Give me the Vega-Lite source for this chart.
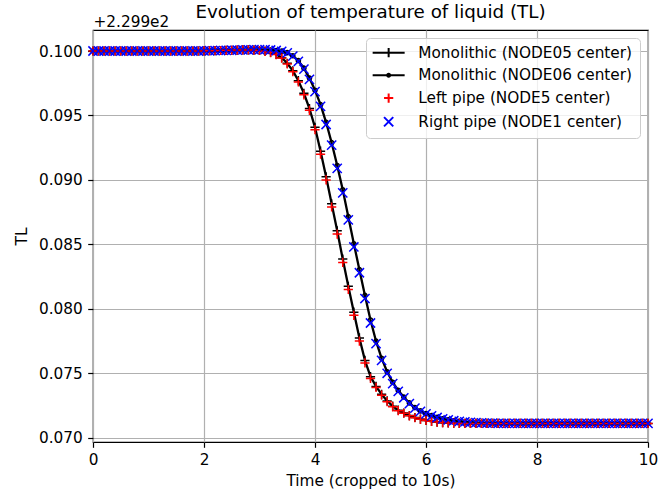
{
  "$schema": "https://vega.github.io/schema/vega-lite/v6.json",
  "width": 555,
  "height": 412,
  "autosize": {"type": "none"},
  "padding": {"left": 93, "top": 30, "right": 10, "bottom": 50},
  "background": "white",
  "config": {
    "font": "DejaVu Sans",
    "view": {"stroke": "black", "strokeWidth": 1.2},
    "axis": {
      "domain": false, "grid": true, "gridColor": "#b0b0b0", "gridWidth": 1.2,
      "tickColor": "black", "tickWidth": 1.2, "tickSize": 5.3, "labelFlush": false,
      "labelFontSize": 15.3, "labelColor": "black", "labelPadding": 5.5,
      "titleFontSize": 15.3, "titleFontWeight": "normal", "titleColor": "black"
    }
  },
  "title": {"text": "Evolution of temperature of liquid (TL)", "fontSize": 18.3, "fontWeight": "normal", "anchor": "middle", "frame": "group", "baseline": "alphabetic", "offset": -6, "dy": 16, "color": "black"},
  "data": {"values": [
    {"t":0,"a":0.1,"b":0.1,"c":0.1,"d":0.1},
    {"t":0.1,"a":0.1,"b":0.1,"c":0.1,"d":0.1},
    {"t":0.2,"a":0.1,"b":0.1,"c":0.1,"d":0.1},
    {"t":0.3,"a":0.1,"b":0.1,"c":0.1,"d":0.1},
    {"t":0.4,"a":0.1,"b":0.1,"c":0.1,"d":0.1},
    {"t":0.5,"a":0.1,"b":0.1,"c":0.1,"d":0.1},
    {"t":0.6,"a":0.1,"b":0.1,"c":0.1,"d":0.1},
    {"t":0.7,"a":0.1,"b":0.1,"c":0.1,"d":0.1},
    {"t":0.8,"a":0.1,"b":0.1,"c":0.1,"d":0.1},
    {"t":0.9,"a":0.1,"b":0.1,"c":0.1,"d":0.1},
    {"t":1.0,"a":0.1,"b":0.1,"c":0.1,"d":0.1},
    {"t":1.1,"a":0.1,"b":0.1,"c":0.1,"d":0.1},
    {"t":1.2,"a":0.1,"b":0.1,"c":0.1,"d":0.1},
    {"t":1.3,"a":0.1,"b":0.1,"c":0.1,"d":0.1},
    {"t":1.4,"a":0.1,"b":0.1,"c":0.1,"d":0.1},
    {"t":1.5,"a":0.1,"b":0.1,"c":0.1,"d":0.1},
    {"t":1.6,"a":0.1,"b":0.1,"c":0.1,"d":0.1},
    {"t":1.7,"a":0.1,"b":0.1,"c":0.1,"d":0.1},
    {"t":1.8,"a":0.1,"b":0.1,"c":0.1,"d":0.1},
    {"t":1.9,"a":0.1,"b":0.1,"c":0.1,"d":0.1},
    {"t":2.0,"a":0.10001,"b":0.10001,"c":0.10001,"d":0.10001},
    {"t":2.1,"a":0.10002,"b":0.10002,"c":0.10002,"d":0.10002},
    {"t":2.2,"a":0.10003,"b":0.10003,"c":0.10003,"d":0.10003},
    {"t":2.3,"a":0.10004,"b":0.10004,"c":0.10004,"d":0.10004},
    {"t":2.4,"a":0.10005,"b":0.10005,"c":0.10005,"d":0.10005},
    {"t":2.5,"a":0.10006,"b":0.10006,"c":0.10006,"d":0.10006},
    {"t":2.6,"a":0.10007,"b":0.10007,"c":0.10007,"d":0.10007},
    {"t":2.7,"a":0.10008,"b":0.10008,"c":0.10008,"d":0.10008},
    {"t":2.8,"a":0.10008,"b":0.10009,"c":0.10008,"d":0.10009},
    {"t":2.9,"a":0.10007,"b":0.1001,"c":0.10007,"d":0.1001},
    {"t":3.0,"a":0.10004,"b":0.1001,"c":0.10004,"d":0.1001},
    {"t":3.1,"a":0.09999,"b":0.1001,"c":0.09998,"d":0.1001},
    {"t":3.2,"a":0.09989,"b":0.10008,"c":0.09988,"d":0.10008},
    {"t":3.3,"a":0.09974,"b":0.10004,"c":0.09972,"d":0.10004},
    {"t":3.4,"a":0.09948,"b":0.09999,"c":0.09945,"d":0.09998},
    {"t":3.5,"a":0.09905,"b":0.09987,"c":0.099,"d":0.09985},
    {"t":3.6,"a":0.09847,"b":0.09963,"c":0.0984,"d":0.0996},
    {"t":3.7,"a":0.0977,"b":0.09925,"c":0.0976,"d":0.0992},
    {"t":3.8,"a":0.09672,"b":0.09867,"c":0.0966,"d":0.0986},
    {"t":3.9,"a":0.09554,"b":0.0979,"c":0.0954,"d":0.0978},
    {"t":4.0,"a":0.09408,"b":0.09696,"c":0.0939,"d":0.09685},
    {"t":4.1,"a":0.09223,"b":0.09584,"c":0.092,"d":0.0957},
    {"t":4.2,"a":0.09024,"b":0.09447,"c":0.09,"d":0.0943},
    {"t":4.3,"a":0.08815,"b":0.09289,"c":0.0879,"d":0.0927},
    {"t":4.4,"a":0.08605,"b":0.09112,"c":0.0858,"d":0.0909},
    {"t":4.5,"a":0.08386,"b":0.08923,"c":0.0836,"d":0.089},
    {"t":4.6,"a":0.08175,"b":0.08715,"c":0.0815,"d":0.0869},
    {"t":4.7,"a":0.07974,"b":0.08505,"c":0.0795,"d":0.0848},
    {"t":4.8,"a":0.07774,"b":0.08304,"c":0.0775,"d":0.0828},
    {"t":4.9,"a":0.076,"b":0.08104,"c":0.0758,"d":0.0808},
    {"t":5.0,"a":0.07474,"b":0.07913,"c":0.0746,"d":0.0789},
    {"t":5.1,"a":0.07398,"b":0.07749,"c":0.0739,"d":0.0773},
    {"t":5.2,"a":0.07337,"b":0.07616,"c":0.0733,"d":0.076},
    {"t":5.3,"a":0.07286,"b":0.07512,"c":0.0728,"d":0.075},
    {"t":5.4,"a":0.07245,"b":0.0743,"c":0.0724,"d":0.0742},
    {"t":5.5,"a":0.07214,"b":0.07367,"c":0.0721,"d":0.0736},
    {"t":5.6,"a":0.07192,"b":0.07316,"c":0.0719,"d":0.0731},
    {"t":5.7,"a":0.07172,"b":0.0727,"c":0.0717,"d":0.07265},
    {"t":5.8,"a":0.07157,"b":0.07234,"c":0.07155,"d":0.0723},
    {"t":5.9,"a":0.07144,"b":0.07208,"c":0.07143,"d":0.07205},
    {"t":6.0,"a":0.07134,"b":0.07187,"c":0.07134,"d":0.07185},
    {"t":6.1,"a":0.07127,"b":0.07172,"c":0.07127,"d":0.0717},
    {"t":6.2,"a":0.07122,"b":0.07159,"c":0.07122,"d":0.07157},
    {"t":6.3,"a":0.07118,"b":0.07147,"c":0.07118,"d":0.07147},
    {"t":6.4,"a":0.07115,"b":0.07139,"c":0.07115,"d":0.07139},
    {"t":6.5,"a":0.07113,"b":0.07132,"c":0.07113,"d":0.07132},
    {"t":6.6,"a":0.07112,"b":0.07127,"c":0.07112,"d":0.07127},
    {"t":6.7,"a":0.07111,"b":0.07123,"c":0.07111,"d":0.07123},
    {"t":6.8,"a":0.07111,"b":0.0712,"c":0.07111,"d":0.0712},
    {"t":6.9,"a":0.07111,"b":0.07117,"c":0.07111,"d":0.07117},
    {"t":7.0,"a":0.07111,"b":0.07115,"c":0.07111,"d":0.07115},
    {"t":7.1,"a":0.07111,"b":0.07114,"c":0.07111,"d":0.07114},
    {"t":7.2,"a":0.07111,"b":0.07113,"c":0.07111,"d":0.07113},
    {"t":7.3,"a":0.07111,"b":0.07112,"c":0.07111,"d":0.07112},
    {"t":7.4,"a":0.07111,"b":0.07111,"c":0.07111,"d":0.07111},
    {"t":7.5,"a":0.07111,"b":0.07111,"c":0.07111,"d":0.07111},
    {"t":7.6,"a":0.07111,"b":0.07111,"c":0.07111,"d":0.07111},
    {"t":7.7,"a":0.07111,"b":0.07111,"c":0.07111,"d":0.07111},
    {"t":7.8,"a":0.07111,"b":0.07111,"c":0.07111,"d":0.07111},
    {"t":7.9,"a":0.07111,"b":0.07111,"c":0.07111,"d":0.07111},
    {"t":8.0,"a":0.07111,"b":0.07111,"c":0.07111,"d":0.07111},
    {"t":8.1,"a":0.07111,"b":0.07111,"c":0.07111,"d":0.07111},
    {"t":8.2,"a":0.07111,"b":0.07111,"c":0.07111,"d":0.07111},
    {"t":8.3,"a":0.07111,"b":0.07111,"c":0.07111,"d":0.07111},
    {"t":8.4,"a":0.07111,"b":0.07111,"c":0.07111,"d":0.07111},
    {"t":8.5,"a":0.07111,"b":0.07111,"c":0.07111,"d":0.07111},
    {"t":8.6,"a":0.07111,"b":0.07111,"c":0.07111,"d":0.07111},
    {"t":8.7,"a":0.07111,"b":0.07111,"c":0.07111,"d":0.07111},
    {"t":8.8,"a":0.07111,"b":0.07111,"c":0.07111,"d":0.07111},
    {"t":8.9,"a":0.07111,"b":0.07111,"c":0.07111,"d":0.07111},
    {"t":9.0,"a":0.07111,"b":0.07111,"c":0.07111,"d":0.07111},
    {"t":9.1,"a":0.07111,"b":0.07111,"c":0.07111,"d":0.07111},
    {"t":9.2,"a":0.07111,"b":0.07111,"c":0.07111,"d":0.07111},
    {"t":9.3,"a":0.07111,"b":0.07111,"c":0.07111,"d":0.07111},
    {"t":9.4,"a":0.07111,"b":0.07111,"c":0.07111,"d":0.07111},
    {"t":9.5,"a":0.07111,"b":0.07111,"c":0.07111,"d":0.07111},
    {"t":9.6,"a":0.07111,"b":0.07111,"c":0.07111,"d":0.07111},
    {"t":9.7,"a":0.07111,"b":0.07111,"c":0.07111,"d":0.07111},
    {"t":9.8,"a":0.07111,"b":0.07111,"c":0.07111,"d":0.07111},
    {"t":9.9,"a":0.07111,"b":0.07111,"c":0.07111,"d":0.07111},
    {"t":10,"a":0.07111,"b":0.07111,"c":0.07111,"d":0.07111}
  ]},
  "layer": [
    {
      "transform": [{"fold": ["a", "b", "c", "d"], "as": ["s", "v"]}, {"filter": "datum.s === 'a'"}],
      "mark": {"type": "line", "color": "black", "strokeWidth": 2.3},
      "encoding": {
        "x": {"field": "t", "type": "quantitative", "scale": {"domain": [0, 10], "nice": false, "zero": false},
          "axis": {"values": [0, 2, 4, 6, 8, 10], "format": "d", "title": "Time (cropped to 10s)", "titlePadding": 5}},
        "y": {"field": "v", "type": "quantitative", "scale": {"domain": [0.06967, 0.10163], "nice": false, "zero": false},
          "axis": {"values": [0.07, 0.075, 0.08, 0.085, 0.09, 0.095, 0.1], "format": ".3f", "title": "TL", "titlePadding": 9}}
      }
    },
    {
      "transform": [{"fold": ["a", "b", "c", "d"], "as": ["s", "v"]}, {"filter": "datum.s === 'b'"}],
      "mark": {"type": "line", "color": "black", "strokeWidth": 2.3},
      "encoding": {
        "x": {"field": "t", "type": "quantitative", "scale": {"domain": [0, 10], "nice": false, "zero": false}, "axis": null},
        "y": {"field": "v", "type": "quantitative", "scale": {"domain": [0.06967, 0.10163], "nice": false, "zero": false},
          "axis": {"values": [0.07, 0.075, 0.08, 0.085, 0.09, 0.095, 0.1], "format": ".3f", "title": "TL", "titlePadding": 9}}
      }
    },
    {
      "transform": [{"fold": ["a", "b", "c", "d"], "as": ["s", "v"]}],
      "mark": {"type": "point", "filled": false, "size": 85, "strokeWidth": 1.5, "opacity": 1},
      "encoding": {
        "x": {"field": "t", "type": "quantitative", "scale": {"domain": [0, 10], "nice": false, "zero": false}, "axis": null},
        "y": {"field": "v", "type": "quantitative", "scale": {"domain": [0.06967, 0.10163], "nice": false, "zero": false},
          "axis": {"values": [0.07, 0.075, 0.08, 0.085, 0.09, 0.095, 0.1], "format": ".3f", "title": "TL", "titlePadding": 9}},
        "color": {"field": "s", "type": "nominal", "scale": {"domain": ["a", "b", "c", "d"], "range": ["black", "black", "red", "blue"]}, "legend": null},
        "shape": {"field": "s", "type": "nominal", "scale": {"domain": ["a", "b", "c", "d"], "range": [
          "M-1,0H1M0,-1V1",
          "M-0.45,0A0.45,0.45 0 1,0 0.45,0A0.45,0.45 0 1,0 -0.45,0",
          "M-1,0H1M0,-1V1",
          "M-1,-1L1,1M-1,1L1,-1"
        ]}, "legend": null}
      }
    },
    {
      "transform": [{"filter": "datum.t > 100"}, {"fold": ["a", "b", "c", "d"], "as": ["s", "v"]}],
      "mark": {"type": "point", "filled": false, "size": 100, "strokeWidth": 2, "opacity": 1},
      "encoding": {
        "x": {"field": "t", "type": "quantitative", "scale": {"domain": [0, 10], "nice": false, "zero": false},
          "axis": {"orient": "top", "title": "+2.299e2", "titleAnchor": "start", "titleAlign": "left", "titleBaseline": "alphabetic", "titlePadding": 4,
            "labels": false, "ticks": false, "grid": false, "domain": false}},
        "color": {"field": "s", "type": "nominal", "scale": {"domain": ["a", "b", "c", "d"], "range": ["black", "black", "red", "blue"]},
          "legend": {"title": null, "orient": "top-right", "offset": 8, "padding": 7, "rowPadding": 5.7, "symbolOffset": 8, "labelOffset": 22,
            "labelFontSize": 15.3, "labelColor": "black", "labelLimit": 400, "symbolSize": 100, "symbolStrokeWidth": 2,
            "fillColor": "rgba(255,255,255,0.8)", "strokeColor": "#cccccc", "cornerRadius": 4,
            "labelExpr": "datum.value === 'a' ? 'Monolithic (NODE05 center)' : datum.value === 'b' ? 'Monolithic (NODE06 center)' : datum.value === 'c' ? 'Left pipe (NODE5 center)' : 'Right pipe (NODE1 center)'"}},
        "shape": {"field": "s", "type": "nominal", "scale": {"domain": ["a", "b", "c", "d"], "range": [
          "M-3.2,0H3.2M0,-0.92V0.92",
          "M-3.2,0H3.2M-0.3,0A0.3,0.3 0 1,0 0.3,0A0.3,0.3 0 1,0 -0.3,0",
          "M-0.92,0H0.92M0,-0.92V0.92",
          "M-0.92,-0.92L0.92,0.92M-0.92,0.92L0.92,-0.92"
        ]},
          "legend": {"title": null, "orient": "top-right", "offset": 8, "padding": 7, "rowPadding": 5.7, "symbolOffset": 8, "labelOffset": 22,
            "labelFontSize": 15.3, "labelColor": "black", "labelLimit": 400, "symbolSize": 100, "symbolStrokeWidth": 2,
            "fillColor": "rgba(255,255,255,0.8)", "strokeColor": "#cccccc", "cornerRadius": 4,
            "labelExpr": "datum.value === 'a' ? 'Monolithic (NODE05 center)' : datum.value === 'b' ? 'Monolithic (NODE06 center)' : datum.value === 'c' ? 'Left pipe (NODE5 center)' : 'Right pipe (NODE1 center)'"}}
      }
    }
  ],
  "resolve": {"scale": {"color": "independent", "shape": "independent"}, "axis": {"x": "independent"}}
}
